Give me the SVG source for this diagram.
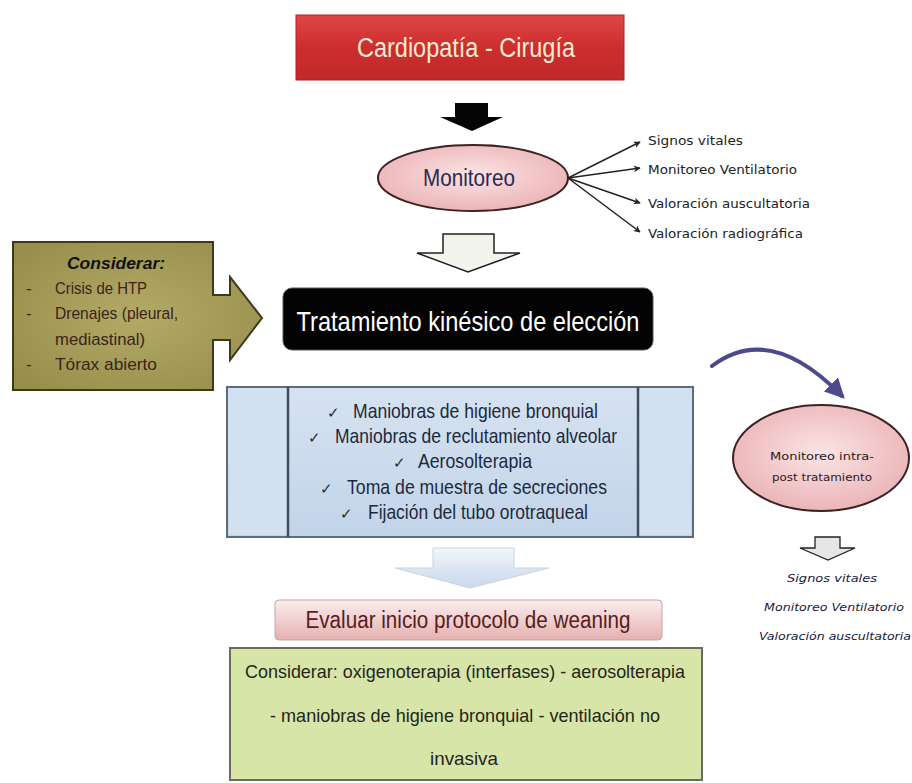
<svg xmlns="http://www.w3.org/2000/svg" width="912" height="783" viewBox="0 0 912 783">
<defs>
<linearGradient id="gRed" x1="0" y1="0" x2="0" y2="1"><stop offset="0" stop-color="#e04545"/><stop offset="0.5" stop-color="#cc2e2e"/><stop offset="1" stop-color="#c22828"/></linearGradient>
<radialGradient id="gPink" cx="0.5" cy="0.45" r="0.6"><stop offset="0" stop-color="#fbe4e4"/><stop offset="1" stop-color="#eab0b4"/></radialGradient>
<radialGradient id="gOlive" cx="0.5" cy="0.5" r="0.7"><stop offset="0" stop-color="#b3aa68"/><stop offset="1" stop-color="#968c4a"/></radialGradient>
<linearGradient id="gBlue" x1="0" y1="0" x2="0" y2="1"><stop offset="0" stop-color="#d6e2f0"/><stop offset="1" stop-color="#c2d4ea"/></linearGradient>
<linearGradient id="gBlueArrow" x1="0" y1="0" x2="0" y2="1"><stop offset="0" stop-color="#f2f6fb"/><stop offset="1" stop-color="#c8d8ec"/></linearGradient>
<linearGradient id="gPinkBox" x1="0" y1="0" x2="0" y2="1"><stop offset="0" stop-color="#fbeeee"/><stop offset="1" stop-color="#e6b0b0"/></linearGradient>
<marker id="ah" viewBox="0 0 10 10" refX="9" refY="5" markerWidth="7" markerHeight="7" orient="auto" markerUnits="userSpaceOnUse"><path d="M0,0 L10,5 L0,10 L3,5 Z" fill="#222"/></marker>
<marker id="ahBlue" viewBox="0 0 10 10" refX="8" refY="5" markerWidth="5" markerHeight="5" orient="auto"><path d="M0,0 L10,5 L0,10 Z" fill="#4b4a8c"/></marker>
<style>
.n{font-family:"Liberation Sans Narrow","Liberation Sans",Arial,sans-serif}
.s{font-family:"DejaVu Sans Condensed","Liberation Sans",sans-serif}
.c{text-anchor:middle}
.conn{stroke:#222;stroke-width:1.5;fill:none}
</style>
</defs>

<g id="cardiopatia">
<rect x="296" y="15" width="328" height="65" fill="url(#gRed)" stroke="#b02222" stroke-width="1"/>
<text x="466" y="57" class="n c" font-size="27" fill="#f7ecd2" textLength="218" lengthAdjust="spacingAndGlyphs">Cardiopatía - Cirugía</text>
</g>

<g id="monitoreo">
<ellipse cx="473" cy="178" rx="95" ry="33" fill="url(#gPink)" stroke="#3b2222" stroke-width="2"/>
<text x="469" y="186" class="n c" font-size="23" fill="#2a2a55" textLength="92" lengthAdjust="spacingAndGlyphs">Monitoreo</text>
</g>

<g id="monitoreo-items" font-size="12" fill="#222">
<text x="648" y="145" class="s" textLength="95" lengthAdjust="spacingAndGlyphs">Signos  vitales</text>
<text x="648" y="174" class="s" textLength="149" lengthAdjust="spacingAndGlyphs">Monitoreo  Ventilatorio</text>
<text x="648" y="208" class="s" textLength="162" lengthAdjust="spacingAndGlyphs">Valoración  auscultatoria</text>
<text x="648" y="238" class="s" textLength="155" lengthAdjust="spacingAndGlyphs">Valoración  radiográfica</text>
</g>

<g id="considerar">
<path d="M13,242 H213 V295 H230 V277 L262,318 L230,360 V340 H213 V390 H13 Z" fill="url(#gOlive)" stroke="#3d3a1c" stroke-width="2"/>
<text x="116" y="269" class="n c" font-size="17" font-weight="bold" font-style="italic" fill="#111" textLength="98" lengthAdjust="spacingAndGlyphs">Considerar:</text>
<g class="n" font-size="17" fill="#3a2418">
<text x="26" y="294">-</text><text x="55" y="294" textLength="92" lengthAdjust="spacingAndGlyphs">Crisis de HTP</text>
<text x="26" y="319">-</text><text x="55" y="319" textLength="123" lengthAdjust="spacingAndGlyphs">Drenajes (pleural,</text>
<text x="55" y="345" textLength="90" lengthAdjust="spacingAndGlyphs">mediastinal)</text>
<text x="26" y="370">-</text><text x="55" y="370" textLength="102" lengthAdjust="spacingAndGlyphs">Tórax abierto</text>
</g>
</g>

<g id="tratamiento">
<rect x="283" y="288" width="370" height="62" rx="9" fill="#030303" stroke="#555" stroke-width="1"/>
<text x="468" y="331" class="n c" font-size="28" fill="#ffffff" textLength="343" lengthAdjust="spacingAndGlyphs">Tratamiento kinésico de elección</text>
</g>

<g id="lista">
<rect x="227" y="387" width="466" height="150" fill="url(#gBlue)" stroke="#5c6b7d" stroke-width="2"/>
<rect x="229" y="389" width="59" height="146" fill="#d3e0ef"/>
<rect x="638" y="389" width="53" height="146" fill="#d3e0ef"/>
<line x1="288" y1="387" x2="288" y2="537" stroke="#3f4d5c" stroke-width="2.5"/>
<line x1="638" y1="387" x2="638" y2="537" stroke="#3f4d5c" stroke-width="2.5"/>
<g class="n" font-size="21" fill="#1c2a3c">
<text x="327" y="418" font-size="15">✓</text><text x="353" y="418" textLength="245" lengthAdjust="spacingAndGlyphs">Maniobras de higiene bronquial</text>
<text x="308" y="443" font-size="15">✓</text><text x="335" y="443" textLength="282" lengthAdjust="spacingAndGlyphs">Maniobras de reclutamiento alveolar</text>
<text x="393" y="468" font-size="15">✓</text><text x="418" y="468" textLength="114" lengthAdjust="spacingAndGlyphs">Aerosolterapia</text>
<text x="320" y="494" font-size="15">✓</text><text x="347" y="494" textLength="260" lengthAdjust="spacingAndGlyphs">Toma de muestra de secreciones</text>
<text x="340" y="519" font-size="15">✓</text><text x="368" y="519" textLength="220" lengthAdjust="spacingAndGlyphs">Fijación del tubo orotraqueal</text>
</g>
</g>

<g id="monitoreo-intra">
<ellipse cx="821" cy="458" rx="88" ry="53" fill="url(#gPink)" stroke="#3b2222" stroke-width="2"/>
<text x="822" y="460" class="s c" font-size="11" fill="#2a1a1a" textLength="104" lengthAdjust="spacingAndGlyphs">Monitoreo  intra-</text>
<text x="822" y="481" class="s c" font-size="11" fill="#2a1a1a" textLength="100" lengthAdjust="spacingAndGlyphs">post tratamiento</text>
</g>

<g id="intra-items" font-size="11" font-style="italic" fill="#1a1a3a">
<text x="832" y="582" class="s c" textLength="90" lengthAdjust="spacingAndGlyphs">Signos vitales</text>
<text x="834" y="611" class="s c" textLength="140" lengthAdjust="spacingAndGlyphs">Monitoreo  Ventilatorio</text>
<text x="835" y="640" class="s c" textLength="152" lengthAdjust="spacingAndGlyphs">Valoración auscultatoria</text>
</g>

<g id="weaning">
<rect x="275" y="600" width="387" height="40" rx="4" fill="url(#gPinkBox)" stroke="#c9a3a3" stroke-width="1"/>
<text x="468" y="628" class="n c" font-size="23" fill="#5a1c1c" textLength="325" lengthAdjust="spacingAndGlyphs">Evaluar inicio protocolo de weaning</text>
</g>

<g id="considerar-final">
<rect x="230" y="648" width="472" height="132" fill="#d7e5a9" stroke="#6b6b5e" stroke-width="2"/>
<g class="n c" font-size="19" fill="#25251a">
<text x="465" y="678" textLength="440" lengthAdjust="spacingAndGlyphs">Considerar: oxigenoterapia (interfases) - aerosolterapia</text>
<text x="465" y="722" textLength="390" lengthAdjust="spacingAndGlyphs">- maniobras de higiene bronquial  - ventilación no</text>
<text x="464" y="765" textLength="68" lengthAdjust="spacingAndGlyphs">invasiva</text>
</g>
</g>

<g id="connectors">
<path d="M455,103 H488 V117 H503 L472,131 L440,117 H455 Z" fill="#050505"/>
<line x1="568" y1="178" x2="640" y2="142" class="conn" marker-end="url(#ah)"/>
<line x1="568" y1="178" x2="640" y2="168" class="conn" marker-end="url(#ah)"/>
<line x1="568" y1="178" x2="640" y2="203" class="conn" marker-end="url(#ah)"/>
<line x1="568" y1="178" x2="640" y2="232" class="conn" marker-end="url(#ah)"/>
<path d="M443,234 H494 V253 H520 L468,272 L417,253 H443 Z" fill="#f3f3ee" stroke="#222" stroke-width="1.5"/>
<path d="M712,366 Q770,322 842,396" fill="none" stroke="#4b4a8c" stroke-width="4" stroke-linecap="round" marker-end="url(#ahBlue)"/>
<path d="M815,537 H840 V548 H855 L828,560 L800,548 H815 Z" fill="#e6e6e6" stroke="#222" stroke-width="1.3"/>
<path d="M433,548 H514 V568 H549 L470,588 L395,568 H433 Z" fill="url(#gBlueArrow)" stroke="#c8d4e2" stroke-width="1"/>
</g>
</svg>
